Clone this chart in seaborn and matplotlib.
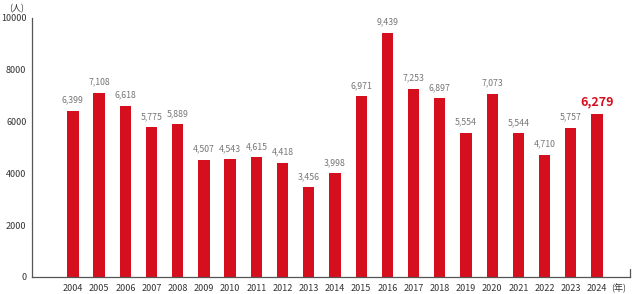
import matplotlib
matplotlib.use("Agg")
import matplotlib.pyplot as plt
import pandas as pd
import seaborn as sns

years = [str(y) for y in range(2004, 2025)]
people = [6399, 7108, 6618, 5775, 5889, 4507, 4543, 4615, 4418, 3456, 3998,
          6971, 9439, 7253, 6897, 5554, 7073, 5544, 4710, 5757, 6279]
yticks = [0, 2000, 4000, 6000, 8000, 10000]

sns.set_theme(style="white")
plt.rcParams["font.family"] = ["Noto Sans CJK JP", "DejaVu Sans"]

RED = "#d50f1d"
GREY = "#777777"

df = pd.DataFrame({"year": years, "people": people})

fig = plt.figure(figsize=(6.32, 2.94), dpi=100)
ax = fig.add_axes([32 / 632, 17 / 294, 598 / 632, 259 / 294])

sns.barplot(data=df, x="year", y="people", color=RED, width=0.43,
            saturation=1, linewidth=0, ax=ax)

ax.set_xlim(-1.56, 21.26)
ax.set_ylim(0, 10000)
ax.set_yticks(yticks)
ax.set_yticklabels([str(t) for t in yticks], fontsize=6.5, color="#333333")
ax.tick_params(axis="y", direction="in", length=8, width=0.8, color="#555555", pad=4)
ax.tick_params(axis="x", length=0, labelsize=6.5, labelcolor="#333333", pad=5)
ax.set_xlabel("")
ax.set_ylabel("")

for s in ["top", "right"]:
    ax.spines[s].set_visible(False)
for s in ["left", "bottom"]:
    ax.spines[s].set_color("#555555")
    ax.spines[s].set_linewidth(0.9)

# small end tick on the right of the baseline
ax.plot([1, 1], [0, 0.03], transform=ax.transAxes, color="#555555",
        lw=0.9, clip_on=False)

for i, v in enumerate(people):
    last = i == len(people) - 1
    ax.text(i, v + 250, f"{v:,}", ha="center", va="bottom",
            fontsize=9 if last else 6.3,
            fontweight="bold" if last else "normal",
            color=RED if last else GREY)

ax.text(-0.025, 1.02, "(人)", transform=ax.transAxes, ha="center",
        va="bottom", fontsize=6.5, color="#333333")
ax.text(20.55, -0.045, "(年)", transform=ax.get_xaxis_transform(),
        ha="left", va="center", fontsize=6.5, color="#333333")

fig.savefig("out.png", dpi=100)
